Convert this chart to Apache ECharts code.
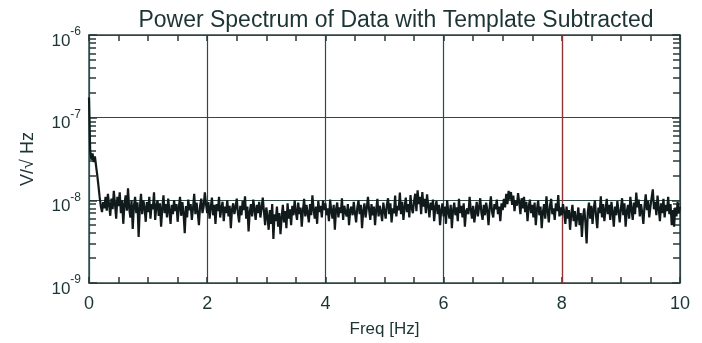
<!DOCTYPE html>
<html>
<head>
<meta charset="utf-8">
<script src="https://cdn.jsdelivr.net/npm/echarts@6/dist/echarts.min.js"></script>
</head>
<body style="margin:0;background:#fff">
<div id="chart-psd" style="width:702px;height:343px"></div>
<pre id="err" style="position:absolute;left:0;top:0;margin:0;font-size:9px;color:#c00"></pre>
<script>
window.onerror = function (m) { document.getElementById('err').textContent += m + '\n'; };

// 频率间隔 (Hz)，每个点一个频率箱
var freqStep = 0.02;

// 功率谱幅值，单位 nV/√Hz (每行 0.5 Hz)
var psdNano = [
    175, 40, 31, 37, 29, 34, 26, 20, 15, 11, 8.5, 7.2, 9.5, 8, 11, 7.5, 12, 8.8, 6.5, 10.5, 7.8, 13, 9, 6, 11,
    8.5, 12.5, 7, 10, 5.2, 9, 11.5, 7.5, 14, 8, 6.2, 10, 4.5, 8.5, 11, 7, 9.5, 3.6, 8, 12, 6.8, 10, 8.2, 5.5, 9.5,
    7.2, 11, 6, 9, 7.8, 12.5, 5.8, 8.5, 10, 6.5, 9.2, 4.8, 8, 11.5, 7, 9, 6.2, 10.5, 7.5, 5.2, 8.8, 6.8, 10, 7.4, 9,
    5.5, 8.2, 11, 6.5, 9.5, 7, 4, 8.5, 6.2, 10.2, 7.6, 9, 5.8, 8, 12, 6.8, 9.4, 7.2, 5, 8.6, 10.5, 7, 8.4, 12.5, 9,
    7, 9.5, 6, 8.2, 10.8, 6.6, 8.8, 5.2, 9, 7.4, 11, 6.2, 8, 9.6, 5.6, 8.4, 7, 10, 6.4, 8.6, 4.6, 7.8, 9.2, 6.8, 8.2,
    10.5, 7, 5.4, 8.6, 6.6, 9.8, 7.6, 11.2, 6, 8.4, 4.2, 7.2, 9, 6.4, 10.2, 7.8, 5.8, 8.8, 7, 9.6, 6.2, 8, 10.8, 7.4, 5,
    8.2, 6.4, 4.4, 7.6, 5.2, 9, 3.4, 6.8, 5.6, 8.4, 4.8, 7, 3.9, 6.2, 8.8, 5.4, 7.4, 4.6, 9.2, 6, 7.8, 5, 8.6, 6.6, 10,
    7.2, 5.8, 9.4, 6.8, 8.2, 4.8, 7.6, 10.4, 6.4, 8.8, 7, 5.4, 9, 6.6, 11.5, 7.8, 6, 8.4, 5.2, 9.8, 7.2, 8.6, 6.2, 10, 7.6,
    9.2, 6.6, 8, 5.6, 10.2, 7.4, 6, 8.8, 4.4, 7.8, 9.4, 6.2, 8.2, 7, 10.6, 5.8, 8.6, 7.2, 6.4, 9, 5, 7.6, 8.4, 6.6, 9.6,
    7, 5.4, 8.2, 10, 6.8, 8.8, 4.6, 7.4, 9.2, 6.2, 8, 11, 7.6, 5.8, 9, 6.6, 8.4, 5, 7.8, 10.4, 6.4, 8.6, 7.2, 5.6, 9.4,
    7.4, 6, 8.8, 10.6, 6.8, 9.2, 5.4, 8, 7, 11.4, 6.4, 8.6, 7.6, 12.4, 6.8, 9.6, 5.8, 8.2, 10.8, 7.2, 9, 6.2, 11.6, 8, 7,
    9.8, 12, 7.4, 13.2, 9, 11, 6.8, 12.6, 8.4, 10.4, 7, 11.8, 8.6, 6.2, 9.4, 7.6, 10.2, 5.6, 8.2, 9.8, 6.8, 8.8, 5, 7.6, 9.2,
    6.4, 8.4, 5.2, 10, 7.2, 6, 8.8, 4.6, 7.6, 9.4, 6.6, 8.2, 5.6, 10.4, 7, 8.6, 6.2, 9.2, 4.8, 7.4, 8, 6.8, 11, 7.8, 6,
    8.6, 5.4, 7.2, 9.6, 6.4, 8.2, 10.6, 7, 5.8, 8.8, 6.6, 9.4, 7.6, 5, 8.4, 11.2, 7.2, 6.2, 9, 7.8, 10.2, 6.8, 8.4, 5.6, 9.2,
    7.6, 10.4, 8.2, 12, 9, 13, 10.2, 12.6, 8.8, 11.4, 7.4, 10, 8.6, 12.2, 9.4, 6.8, 10.6, 8, 11, 7.2, 9.6, 5.6, 8.4, 10.2, 7,
    8.8, 6.2, 9.4, 5, 7.8, 10, 6.6, 8.4, 4.6, 7.2, 9, 6, 11.2, 7.6, 5.4, 8.6, 10.4, 6.8, 8, 5.8, 9.2, 7.4, 11.6, 6.4, 8.2,
    6.6, 9, 7.2, 5.2, 8.4, 6, 7.6, 4.4, 6.8, 8.8, 5.6, 7.4, 4.8, 6.2, 8.2, 5, 7, 3.6, 6.4, 8, 5.4, 3, 7.2, 9.4, 6,
    8.6, 5.2, 7.8, 10, 6.4, 4.6, 8.2, 7, 11.2, 6.2, 9, 5.6, 7.6, 10.4, 6.8, 8.8, 5.8, 9.6, 7.2, 4.8, 8.4, 6.6, 9.8, 7.4, 5.4,
    8, 10.6, 6.6, 9.2, 4.8, 7.4, 8.8, 6, 11, 7.8, 5.8, 9.4, 6.8, 12.4, 8.2, 10.2, 6.4, 9, 7.2, 5.2, 8.6, 11.8, 7.6, 9.8, 6.2,
    8.4, 10.8, 13.6, 7.8, 9.6, 6.6, 11.4, 8, 5.6, 9.2, 7, 10.4, 6.2, 8.8, 7.4, 11, 6.8, 9, 5, 7.6, 4.8, 8.2, 6.4, 9.6, 7,
    8.4
];

var xTickLabels = ['0', '2', '4', '6', '8', '10'];

// 红色网格线的位置
var redGridY = [1e-7];
var redGridX = [8];

var ff = 'Liberation Sans';
var textColor = '#1c3434';
var tickColor = '#2a3a3a';
var gridColor = '#2f4848';
var redColor = '#8e3434';

var seriesData = [];
for (var i = 0; i < psdNano.length; i++) {
    seriesData.push([i * freqStep, psdNano[i] * 1e-9]);
}

var markData = [];
for (var j = 0; j < redGridY.length; j++) {
    markData.push({ yAxis: redGridY[j] });
}
for (var k = 0; k < redGridX.length; k++) {
    markData.push({ xAxis: redGridX[k] });
}

var xTick = { show: true, inside: true, length: 6, lineStyle: { color: tickColor, width: 1.5 } };
var xMinor = { show: true, splitNumber: 4, length: 6, lineStyle: { color: tickColor, width: 1.5 } };
var yTick = { show: true, inside: true, length: 8, lineStyle: { color: tickColor, width: 1.5 } };
var yMinor = { show: true, splitNumber: 9, length: 7, lineStyle: { color: tickColor, width: 1.5 } };

var chart = echarts.init(document.getElementById('chart-psd'));
chart.setOption({
    animation: false,
    title: {
        text: 'Power Spectrum of Data with Template Subtracted',
        left: 391,
        top: 4,
        textAlign: 'center',
        textStyle: { color: textColor, fontFamily: ff, fontWeight: 'normal', fontSize: 23 }
    },
    grid: { left: 89, right: 22, top: 35, bottom: 53 },
    xAxis: [
        {
            type: 'value', min: 0, max: 10, interval: 2,
            name: 'Freq [Hz]', nameLocation: 'middle', nameGap: 38,
            nameTextStyle: { color: textColor, fontFamily: ff, fontSize: 17 },
            axisLine: { show: true, onZero: false, lineStyle: { color: '#344444', width: 1.5 } },
            axisTick: xTick,
            minorTick: xMinor,
            axisLabel: {
                color: textColor, fontFamily: ff, fontSize: 18, margin: 12,
                formatter: function (v) { return xTickLabels[Math.round(v / 2)]; }
            },
            splitLine: { show: true, lineStyle: { color: gridColor, width: 1.2 } }
        },
        {
            type: 'value', min: 0, max: 10, interval: 2, position: 'top',
            axisLine: { show: true, onZero: false, lineStyle: { color: '#344444', width: 1.5 } },
            axisTick: xTick,
            minorTick: xMinor,
            axisLabel: { show: false },
            splitLine: { show: false }
        }
    ],
    yAxis: [
        {
            type: 'log', logBase: 10, min: 1e-9, max: 1e-6,
            name: 'V/\u221A Hz', nameLocation: 'middle', nameGap: 52, nameRotate: 90,
            nameTextStyle: { color: textColor, fontFamily: ff, fontSize: 18 },
            axisLine: { show: true, onZero: false, lineStyle: { color: '#2e5252', width: 1.5 } },
            axisTick: yTick,
            minorTick: yMinor,
            axisLabel: {
                color: textColor, fontFamily: ff, margin: 8,
                formatter: function (v) {
                    return '{base|10}{sup|' + Math.round(Math.log(v) / Math.LN10) + '}';
                },
                rich: {
                    base: { fontSize: 17, fontFamily: ff, color: textColor, padding: [12, 0, 0, 0] },
                    sup: { fontSize: 12, fontFamily: ff, color: textColor, padding: [0, 0, 6, 0] }
                }
            },
            splitLine: { show: true, lineStyle: { color: gridColor, width: 1.2 } }
        },
        {
            type: 'log', logBase: 10, min: 1e-9, max: 1e-6, position: 'right',
            axisLine: { show: true, onZero: false, lineStyle: { color: '#344444', width: 1.5 } },
            axisTick: yTick,
            minorTick: yMinor,
            axisLabel: { show: false },
            splitLine: { show: false }
        }
    ],
    series: [
        {
            name: 'PSD',
            type: 'line',
            data: seriesData,
            showSymbol: false,
            symbol: 'none',
            lineStyle: { color: '#111a1a', width: 2.2 },
            markLine: {
                silent: true,
                symbol: 'none',
                label: { show: false },
                lineStyle: { color: redColor, width: 1.2, type: 'solid' },
                data: markData,
                z: 1
            },
            z: 5
        }
    ]
});
</script>
</body>
</html>
